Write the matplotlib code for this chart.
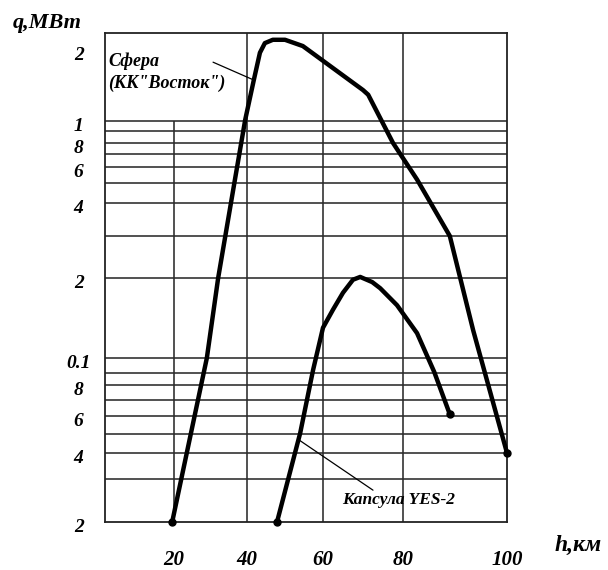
import numpy as np
import matplotlib
matplotlib.use('Agg')
import matplotlib.pyplot as plt
from matplotlib.transforms import ScaledTranslation

# ---------------- data ----------------
sphere_h = [19.5, 29.0, 32.1, 36.7, 39.5, 41.8, 43.4, 44.7, 46.8, 50.0,
            54.7, 70.0, 71.3, 77.5, 82.7, 89.0, 93.5, 100.0]
sphere_q = [0.02, 0.10, 0.20, 0.52, 1.01, 1.49, 1.94, 2.13, 2.20, 2.20,
            2.07, 1.35, 1.29, 0.80, 0.52, 0.30, 0.127, 0.04]

capsule_h = [47.9, 54.0, 57.4, 60.0, 62.5, 65.0, 67.5, 69.3, 72.3, 74.3,
             78.5, 82.7, 86.0, 89.0]
capsule_q = [0.02, 0.0505, 0.092, 0.130, 0.152, 0.176, 0.197, 0.202, 0.193,
             0.183, 0.158, 0.124, 0.0907, 0.061]

x_ticks = [20, 40, 60, 80, 100]
x_tick_labels = ['20', '40', '60', '80', '100']
y_ticks = [0.02, 0.04, 0.06, 0.08, 0.1, 0.2, 0.4, 0.6, 0.8, 1.0, 2.0]
y_tick_labels = ['2', '4', '6', '8', '0.1', '2', '4', '6', '8', '1', '2']

grid_q = [0.03, 0.04, 0.05, 0.06, 0.07, 0.08, 0.09, 0.1,
          0.2, 0.3, 0.4, 0.5, 0.6, 0.7, 0.8, 0.9, 1.0]
grid_h = [40, 60, 80]

sphere_label = 'Сфера\n(КК"Восток")'
capsule_label = 'Капсула YES-2'
y_title = 'q,МВт'
x_title = 'h,км'

# ---------------- hand-drawn (non-uniform) axis scales ----------------
# x: the original paper's 20-km divisions are not evenly spaced
XK_H = np.array([-1000.0, 1.0, 20.0, 40.0, 60.0, 80.0, 100.0, 1000.0])
XK_U = np.array([-3630.0, 0.0, 69.0, 142.0, 218.0, 298.0, 402.0, 5082.0])

def x_fwd(h):
    return np.interp(h, XK_H, XK_U)

def x_inv(u):
    return np.interp(u, XK_U, XK_H)

# y: logarithmic grid as drawn on the original paper
YK_Q = np.array([1e-4, 0.02, 0.03, 0.04, 0.05, 0.06, 0.07, 0.08, 0.09, 0.1,
                 0.2, 0.3, 0.4, 0.5, 0.6, 0.7, 0.8, 0.9, 1.0, 100.0])
YK_U = np.array([-545.0, 0, 43, 69, 88, 106, 122, 137, 149, 164,
                 244, 286, 319, 339, 355, 368, 379, 391, 401, 875.0])
YK_L = np.log10(YK_Q)

def y_fwd(q):
    q = np.clip(np.asarray(q, dtype=float), 1e-12, None)
    return np.interp(np.log10(q), YK_L, YK_U)

def y_inv(u):
    return 10.0 ** np.interp(u, YK_U, YK_L)

# ---------------- figure ----------------
W, H = 608, 570
fig = plt.figure(figsize=(W / 100, H / 100), dpi=100)
ax = fig.add_axes([105 / W, 48 / H, 402 / W, 489 / H])
ax.set_xscale('function', functions=(x_fwd, x_inv))
ax.set_yscale('function', functions=(y_fwd, y_inv))
ax.set_xlim(1, 100)
ax.set_ylim(0.02, 2.35)

FONT = dict(family='Liberation Serif', style='italic', weight='bold')
GRID_C = '#2b2b2b'

# grid
ax.hlines(grid_q, 1, 100, colors=GRID_C, linewidth=1.15, zorder=1)
ax.vlines(20, 0.02, 1.0, colors=GRID_C, linewidth=1.15, zorder=1)
ax.vlines(grid_h, 0.02, 2.35, colors=GRID_C, linewidth=1.15, zorder=1)

for sp in ax.spines.values():
    sp.set_linewidth(1.3)
    sp.set_color('#222222')

# curves
for hh, qq in ((sphere_h, sphere_q), (capsule_h, capsule_q)):
    ax.plot(hh, qq, color='black', linewidth=3.2, solid_joinstyle='round',
            solid_capstyle='round', zorder=3, clip_on=False)
    ax.plot([hh[0], hh[-1]], [qq[0], qq[-1]], 'o', color='black',
            markersize=5, zorder=4, clip_on=False)

# leader lines of the annotations
ax.annotate('', xy=(41.3, 1.50), xytext=(30.7, 1.77),
            arrowprops=dict(arrowstyle='-', lw=0.9, color='black',
                            shrinkA=0, shrinkB=0))
ax.annotate('', xy=(53.7, 0.0466), xytext=(72.5, 0.027),
            arrowprops=dict(arrowstyle='-', lw=0.9, color='black',
                            shrinkA=0, shrinkB=0))

# ticks
ax.set_xticks(x_ticks)
ax.set_xticklabels(x_tick_labels, fontdict=dict(size=15, **FONT))
ax.set_yticks(y_ticks)
ax.set_yticklabels(y_tick_labels, fontdict=dict(size=14, **FONT))
ax.minorticks_off()
ax.tick_params(axis='x', length=0, pad=20)
ax.tick_params(axis='y', length=0, pad=19)
for lab in ax.get_yticklabels():
    lab.set_horizontalalignment('center')
    lab.set_transform(lab.get_transform() +
                      ScaledTranslation(0, -4 / 100, fig.dpi_scale_trans))

# texts
def fx(px):
    return px / W

def fy(py):
    return 1 - py / H

fig.text(fx(108), fy(72), sphere_label, fontsize=13, ha='left', va='center',
         linespacing=1.35, **FONT)
fig.text(fx(342), fy(500), capsule_label, fontsize=12.5, ha='left',
         va='center', **FONT)
fig.text(fx(13), fy(23), y_title, fontsize=16, ha='left', va='center', **FONT)
fig.text(fx(555), fy(545), x_title, fontsize=17, ha='left', va='center',
         **FONT)

fig.savefig('out.png', dpi=100)
